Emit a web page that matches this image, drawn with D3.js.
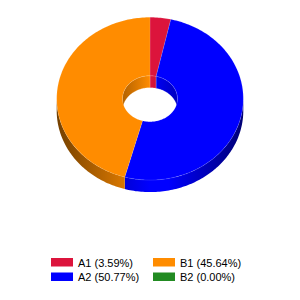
<!DOCTYPE html>
<html>
<head>
<meta charset="utf-8">
<script src="https://cdn.jsdelivr.net/npm/d3@7"></script>
<style>
  body { margin: 0; background: #fff; }
</style>
</head>
<body>
<svg id="chart" width="300" height="300"></svg>
<script>
// data
var labels = ["A1", "A2", "B1", "B2"];
var values = [3.59, 50.77, 45.64, 0.00];
var colors = ["#DC143C", "#0000FF", "#FF8C00", "#228B22"];

var svg = d3.select("#chart");

// 3d donut geometry
var cx = 150, cy = 98.7,
    rx = 93.3, ry = 81.4,
    irx = 27.5, iry = 23,
    depth = 12;

var pie = d3.pie().sort(null).value(d => d);
var arcs = pie(values);

function pt(a, ex, ey, dy) {
    return [cx + ex * Math.sin(a), cy - ey * Math.cos(a) + (dy || 0)];
}
function sample(a0, a1) {
    var n = Math.max(2, Math.ceil(Math.abs(a1 - a0) / 0.02));
    return d3.range(n + 1).map(i => a0 + (a1 - a0) * i / n);
}
var line = d3.line();

// gradients for the walls
var defs = svg.append("defs");
colors.forEach(function (c, i) {
    var g = defs.append("linearGradient")
        .attr("id", "side" + i)
        .attr("gradientUnits", "userSpaceOnUse")
        .attr("x1", cx - rx).attr("x2", cx + rx)
        .attr("y1", 0).attr("y2", 0);
    g.append("stop").attr("offset", 0).attr("stop-color", d3.color(c).darker(2.2));
    g.append("stop").attr("offset", 0.5).attr("stop-color", c);
    g.append("stop").attr("offset", 0.6).attr("stop-color", c);
    g.append("stop").attr("offset", 1).attr("stop-color", d3.color(c).darker(2.2));

    var h = defs.append("linearGradient")
        .attr("id", "inner" + i)
        .attr("gradientUnits", "userSpaceOnUse")
        .attr("x1", cx - irx).attr("x2", cx + irx)
        .attr("y1", 0).attr("y2", 0);
    h.append("stop").attr("offset", 0).attr("stop-color", d3.color(c).darker(1));
    h.append("stop").attr("offset", 0.5).attr("stop-color", c);
    h.append("stop").attr("offset", 1).attr("stop-color", d3.color(c).darker(0.8));
});

function clip(d, lo, hi) {
    var a0 = Math.max(d.startAngle, lo), a1 = Math.min(d.endAngle, hi);
    return a1 > a0 ? [a0, a1] : null;
}

// inner walls (back half of hole)
var innerG = svg.append("g");
arcs.forEach(function (d, i) {
    [[-Math.PI / 2, Math.PI / 2], [3 * Math.PI / 2, 5 * Math.PI / 2]].forEach(function (r) {
        var c = clip(d, r[0], r[1]);
        if (!c) return;
        var top = sample(c[0], c[1]).map(a => pt(a, irx, iry));
        var bot = sample(c[1], c[0]).map(a => pt(a, irx, iry, depth));
        innerG.append("path")
            .attr("d", line(top.concat(bot)) + "Z")
            .attr("fill", "url(#inner" + i + ")")
            .attr("stroke", "rgba(255,255,255,0.35)")
            .attr("stroke-width", 0.5);
    });
});

// outer walls (front half)
var sideG = svg.append("g");
arcs.forEach(function (d, i) {
    var c = clip(d, Math.PI / 2, 3 * Math.PI / 2);
    if (!c) return;
    var top = sample(c[0], c[1]).map(a => pt(a, rx, ry));
    var bot = sample(c[1], c[0]).map(a => pt(a, rx, ry, depth));
    sideG.append("path")
        .attr("d", line(top.concat(bot)) + "Z")
        .attr("fill", "url(#side" + i + ")");
});

// top faces
var topG = svg.append("g");
arcs.forEach(function (d, i) {
    if (d.endAngle - d.startAngle <= 0) return;
    var outer = sample(d.startAngle, d.endAngle).map(a => pt(a, rx, ry));
    var inner = sample(d.endAngle, d.startAngle).map(a => pt(a, irx, iry));
    topG.append("path")
        .attr("d", line(outer.concat(inner)) + "Z")
        .attr("fill", colors[i])
        .attr("stroke", "rgba(255,255,255,0.3)")
        .attr("stroke-width", 0.4);
});

// legend: A1, B1 on first row, A2, B2 on second
var legend = svg.append("g")
    .attr("font-family", "Arial, 'Liberation Sans', sans-serif")
    .attr("font-size", "11px")
    .attr("fill", "#000");

var slot = [0, 2, 1, 3];
labels.forEach(function (l, i) {
    var k = slot[i];
    var gx = [51, 153][k % 2], gy = 258 + Math.floor(k / 2) * 14.5;
    legend.append("rect")
        .attr("x", gx).attr("y", gy)
        .attr("width", 22).attr("height", 8.5)
        .attr("fill", colors[i]);
    legend.append("text")
        .attr("x", gx + 27).attr("y", gy + 8.5)
        .text(l + " (" + values[i].toFixed(2) + "%)");
});
</script>
</body>
</html>
